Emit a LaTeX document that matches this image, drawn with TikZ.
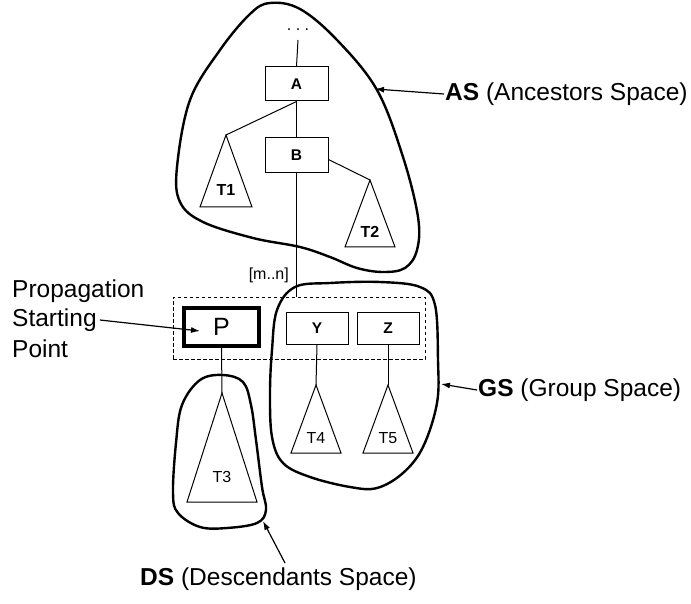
\documentclass[tikz,border=0pt]{standalone}
\usepackage{fontspec}
\setmainfont{Liberation Sans}
\usetikzlibrary{arrows.meta,calc}
\begin{document}
\begin{tikzpicture}[x=1pt,y=-1pt,
  box/.style={draw,line width=1pt,inner sep=0pt,font=\fontsize{15.5}{17}\selectfont\bfseries},
  tri/.style={draw,line width=1pt,line join=miter},
  conn/.style={line width=1pt},
  blob/.style={line width=2.4pt,line join=round},
  lab/.style={font=\fontsize{24.5}{29}\selectfont,inner sep=1pt},
  tlabb/.style={font=\fontsize{16}{18}\selectfont\bfseries,inner sep=0pt},
  tlab/.style={font=\fontsize{16}{18}\selectfont,inner sep=0pt},
  arr/.style={line width=1.2pt,-{Latex[length=9pt,width=6pt]}},
]
\useasboundingbox (0,0) rectangle (691,604);

% top dots
\node[font=\fontsize{16}{18}\selectfont,inner sep=0pt] (dots) at (298,30) {.\ .\ .};
\coordinate (dotsb) at (298,40);

% boxes
\node[box,minimum width=63pt,minimum height=34pt] (A) at (296.5,84) {A};
\node[box,minimum width=63pt,minimum height=35pt] (B) at (296.5,155.5) {B};
\node[draw,dashed,line width=0.9pt,dash pattern=on 3.5pt off 2.5pt,minimum width=252pt,minimum height=62pt,inner sep=0pt] (grp) at (299,328) {};
\node[draw,line width=3.6pt,minimum width=75pt,minimum height=38pt,inner sep=0pt,font=\fontsize{25}{28}\selectfont] (P) at (221.5,327) {P};
\node[box,minimum width=62pt,minimum height=32pt] (Y) at (317,328) {Y};
\node[box,minimum width=62pt,minimum height=32pt] (Z) at (388,328) {Z};

% triangle apexes
\coordinate (t1) at (226,135);
\coordinate (t2) at (370,180);
\coordinate (t3) at (222,393);
\coordinate (t4) at (316,385);
\coordinate (t5) at (388,385);

\draw[tri] (t1) -- ++(-26,72) -- ++(52,0) -- cycle;
\draw[tri] (t2) -- ++(-25,67) -- ++(50,0) -- cycle;
\draw[tri] (t3) -- ++(-35,109) -- ++(70,0) -- cycle;
\draw[tri] (t4) -- ++(-25,68) -- ++(50,0) -- cycle;
\draw[tri] (t5) -- ++(-25,68) -- ++(50,0) -- cycle;

\node[tlabb] (T1) at (226,190) {T1};
\node[tlabb] (T2) at (370,232) {T2};
\node[tlab] (T3) at (222,477) {T3};
\node[tlab] (T4) at (316,438) {T4};
\node[tlab] (T5) at (388,438) {T5};

% connectors
\draw[conn] (dotsb) -- (A.north);
\draw[conn] (A.south) -- (B.north);
\draw[conn] (A.south) -- (t1);
\draw[conn] ([yshift=-4pt]B.east) -- (t2);
\draw[conn] (B.south) -- (B.south |- grp.north);
\draw[conn] (P.south) -- (t3);
\draw[conn] (Y.south) -- (t4);
\draw[conn] (Z.south) -- (t5);

\node[font=\fontsize{16}{18}\selectfont,inner sep=0pt,anchor=east] (mn) at (289,275) {[m..n]};

% blobs
\draw[blob] plot[smooth cycle,tension=0.6] coordinates {
 (270,3) (300,9) (337,40) (377,90) (403,157) (418,217) (417,250) (405,268)
 (383,272) (357,268) (330,257) (300,247) (253,238) (203,222) (180,202)
 (177,167) (190,100) (220,50) (250,14)};
\draw[blob] plot[smooth cycle,tension=0.6] coordinates {
 (295,287) (330,283) (380,282) (420,287) (435,305) (438,360) (437,403)
 (423,447) (403,473) (377,488) (350,487) (310,477) (283,463) (272,437)
 (270,393) (272,350) (277,310)};
\draw[blob] plot[smooth cycle,tension=0.6] coordinates {
 (223,375) (243,382) (251,405) (256,440) (262,487) (266,510) (257,523)
 (227,528) (200,527) (178,513) (173,493) (176,443) (182,405) (200,380)};

% labels with arrows
\node[lab,anchor=west] (AS) at (444,94) {\textbf{AS} (Ancestors Space)};
\node[lab,anchor=west] (GS) at (477,390) {\textbf{GS} (Group Space)};
\node[lab,anchor=west] (DS) at (139,579) {\textbf{DS} (Descendants Space)};
\node[lab,anchor=west] (pr1) at (11,291) {Propagation};
\node[lab,anchor=west] (pr2) at (11,320) {Starting};
\node[lab,anchor=west] (pr3) at (11,349) {Point};

\coordinate (asTip) at (375,89);
\coordinate (gsTip) at (441,384);
\coordinate (dsTip) at (263,521);
\coordinate (dsStart) at (285,563);
\coordinate (pTip) at (200,331);

\draw[arr] (AS.west) -- (asTip);
\draw[arr] (GS.west) -- (gsTip);
\draw[arr] (dsStart) -- (dsTip);
\draw[arr] ([xshift=2pt]pr2.east) -- (pTip);
\end{tikzpicture}
\end{document}
